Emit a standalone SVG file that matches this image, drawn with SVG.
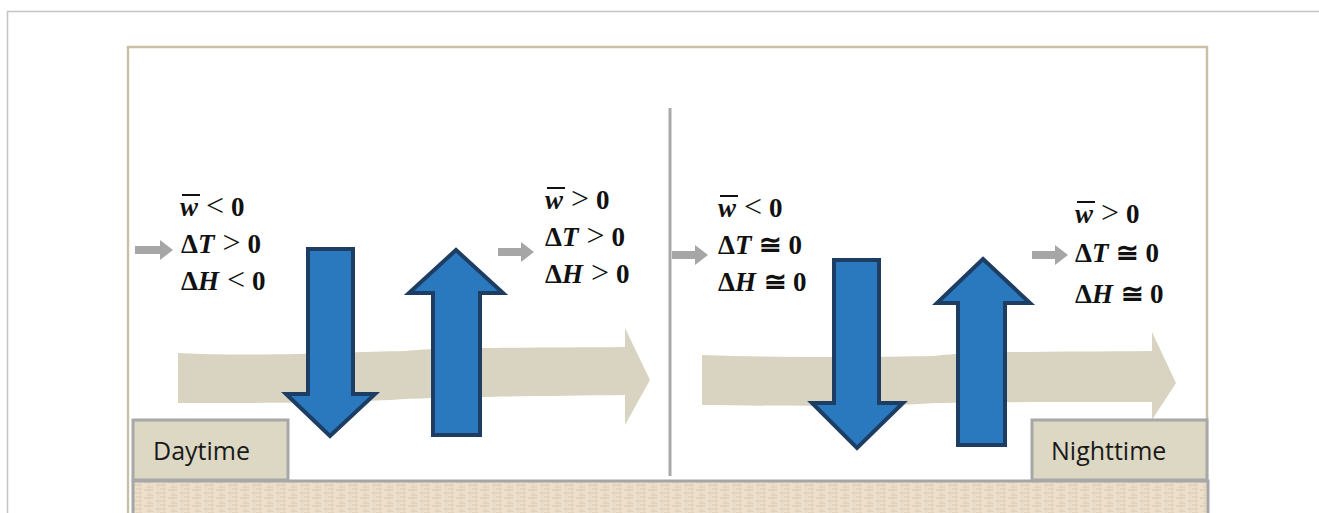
<svg xmlns="http://www.w3.org/2000/svg" width="1319" height="513" viewBox="0 0 1319 513">
<defs>
<style>
.math{font-family:"Liberation Serif","Times New Roman",serif;font-size:27px;font-weight:bold;fill:#111;}
.v{font-style:italic;}
.r{font-weight:normal;font-size:32px;}
.lbl{font-family:"Open Sans","Liberation Sans",sans-serif;font-size:25px;fill:#1a1a1a;}
.blue{fill:#2a78be;stroke:#1d3d63;stroke-width:4;stroke-linejoin:miter;}
.flow{fill:#d9d4c1;}
.gray{fill:#a6a6a6;}
.box{fill:#ddd8c3;stroke:#a8a8a8;stroke-width:3;}
.bar{stroke:#111;stroke-width:2;}
</style>
<pattern id="tex" width="24" height="8" patternUnits="userSpaceOnUse">
<rect width="24" height="8" fill="#ecdfcc"/>
<path d="M0 2h9M12 5h10M3 7h6M16 1h6" stroke="#d8c8b0" stroke-width="1"/>
<path d="M5 0v8M14 0v8M20 0v8" stroke="#e2d3bd" stroke-width="1"/>
</pattern>
</defs>
<rect width="1319" height="513" fill="#ffffff"/>
<path d="M7.5 513V11.5H1319" fill="none" stroke="#c4c4c4" stroke-width="1.5"/>
<rect x="128" y="47" width="1079" height="480" fill="#ffffff" stroke="#c8c1a8" stroke-width="2.5"/>
<line x1="670" y1="108" x2="670" y2="476" stroke="#a9a9a9" stroke-width="3"/>
<g id="ground">
<rect x="133" y="481" width="1075" height="34" fill="url(#tex)" stroke="#a6a6a6" stroke-width="3"/>
</g>
<g id="connectors">
<path class="flow" d="M178 353 C260 357 350 352 405 351 C440 347 540 348 625 347 L625 328 L650 380 L625 425 L625 395 C540 396 450 397 405 399 C350 403 260 403 178 403 Z"/>
<path class="flow" d="M702 355 C790 358 880 357 935 356 C970 351 1060 352 1152 351 L1152 332 L1176 383 L1152 420 L1152 402 C1060 402 980 402 935 403 C880 407 790 406 702 405 Z"/>
<path class="blue" d="M308 249 H353 V394 H375 L330 436 L286 394 H308 Z"/>
<path class="blue" d="M456 250 L503 293 H480 V435 H433 V293 H409 Z"/>
<path class="blue" d="M834 260 H879 V403 H903 L857 448 L812 403 H834 Z"/>
<path class="blue" d="M983 259 L1030 303 H1005 V445 H958 V303 H937 Z"/>
<path class="gray" d="M135 246 H160 V240 L173 250 L160 260 V254 H135 Z"/>
<path class="gray" d="M498 248 H521 V242 L534 252 L521 262 V256 H498 Z"/>
<path class="gray" d="M672 251 H695 V245 L708 255 L695 265 V259 H672 Z"/>
<path class="gray" d="M1032 251 H1055 V245 L1068 255 L1055 265 V259 H1032 Z"/>
</g>
<g id="day-in">
<line class="bar" x1="182" y1="195" x2="200" y2="195"/>
<text class="math" x="180" y="216"><tspan class="v">w</tspan><tspan class="r" dx="8">&lt;</tspan><tspan dx="7">0</tspan></text>
<text class="math" x="181" y="253">Δ<tspan class="v">T</tspan><tspan class="r" dx="8">&gt;</tspan><tspan dx="7">0</tspan></text>
<text class="math" x="181" y="290">Δ<tspan class="v">H</tspan><tspan class="r" dx="8">&lt;</tspan><tspan dx="7">0</tspan></text>
</g>
<g id="day-out">
<line class="bar" x1="547" y1="188" x2="565" y2="188"/>
<text class="math" x="545" y="209"><tspan class="v">w</tspan><tspan class="r" dx="8">&gt;</tspan><tspan dx="7">0</tspan></text>
<text class="math" x="545" y="246">Δ<tspan class="v">T</tspan><tspan class="r" dx="8">&gt;</tspan><tspan dx="7">0</tspan></text>
<text class="math" x="545" y="283">Δ<tspan class="v">H</tspan><tspan class="r" dx="8">&gt;</tspan><tspan dx="7">0</tspan></text>
</g>
<g id="night-in">
<line class="bar" x1="720" y1="196" x2="738" y2="196"/>
<text class="math" x="718" y="217"><tspan class="v">w</tspan><tspan class="r" dx="8">&lt;</tspan><tspan dx="7">0</tspan></text>
<text class="math" x="718" y="254">Δ<tspan class="v">T</tspan><tspan dx="8">≅</tspan><tspan dx="6">0</tspan></text>
<text class="math" x="718" y="291">Δ<tspan class="v">H</tspan><tspan dx="8">≅</tspan><tspan dx="6">0</tspan></text>
</g>
<g id="night-out">
<line class="bar" x1="1077" y1="202" x2="1095" y2="202"/>
<text class="math" x="1075" y="223"><tspan class="v">w</tspan><tspan class="r" dx="8">&gt;</tspan><tspan dx="7">0</tspan></text>
<text class="math" x="1075" y="262">Δ<tspan class="v">T</tspan><tspan dx="8">≅</tspan><tspan dx="6">0</tspan></text>
<text class="math" x="1075" y="303">Δ<tspan class="v">H</tspan><tspan dx="8">≅</tspan><tspan dx="6">0</tspan></text>
</g>
<g id="daytime">
<rect class="box" x="133" y="420" width="155" height="60"/>
<text class="lbl" x="153" y="460">Daytime</text>
</g>
<g id="nighttime">
<rect class="box" x="1032" y="420" width="175" height="60"/>
<text class="lbl" x="1051" y="460">Nighttime</text>
</g>
</svg>
